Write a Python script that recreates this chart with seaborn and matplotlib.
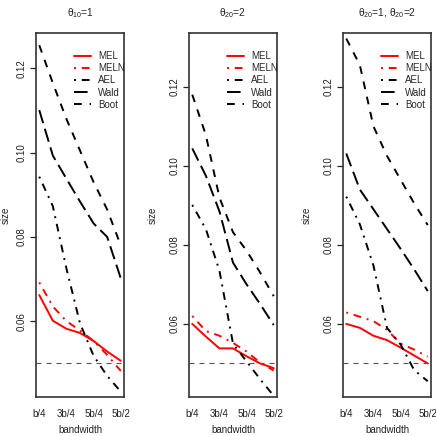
import matplotlib
matplotlib.use('Agg')
import matplotlib.pyplot as plt
from matplotlib.lines import Line2D
import seaborn as sns
import pandas as pd

bandwidth_labels = ['b/4', '3b/4', '5b/4', '5b/2']
bandwidth_ticks = [1, 2, 3, 4]
grid = [1.0, 1.5, 2.0, 2.5, 3.0, 3.5, 4.0]
methods = ['MEL', 'MELN', 'AEL', 'Wald', 'Boot']
titles = [r'$\theta_{10}$=1', r'$\theta_{20}$=2', r'$\theta_{20}$=1, $\theta_{20}$=2']
nominal = 0.05
ytick_values = [0.06, 0.08, 0.10, 0.12]

# panel 1
mel_1 = [0.0662, 0.0601, 0.0582, 0.0572, 0.0553, 0.0528, 0.0506]
meln_1 = [0.0692, 0.0635, 0.0600, 0.0578, 0.0553, 0.0520, 0.0482]
ael_1 = [0.0943, 0.0873, 0.0725, 0.0595, 0.0518, 0.0470, 0.0433]
wald_1 = [0.1101, 0.0993, 0.0938, 0.0884, 0.0832, 0.0800, 0.0702]
boot_1 = [0.1255, 0.1165, 0.1080, 0.1005, 0.0930, 0.0865, 0.0780]

# panel 2
mel_2 = [0.0600, 0.0568, 0.0538, 0.0538, 0.0518, 0.0500, 0.0488]
meln_2 = [0.0620, 0.0582, 0.0570, 0.0552, 0.0530, 0.0502, 0.0482]
ael_2 = [0.0901, 0.0840, 0.0735, 0.0550, 0.0505, 0.0460, 0.0418]
wald_2 = [0.1044, 0.0975, 0.0885, 0.0755, 0.0700, 0.0650, 0.0597]
boot_2 = [0.1180, 0.1078, 0.0920, 0.0832, 0.0785, 0.0730, 0.0670]

# panel 3
mel_3 = [0.0600, 0.0590, 0.0570, 0.0559, 0.0540, 0.0520, 0.0500]
meln_3 = [0.0629, 0.0618, 0.0607, 0.0585, 0.0550, 0.0535, 0.0517]
ael_3 = [0.0922, 0.0852, 0.0748, 0.0590, 0.0548, 0.0483, 0.0455]
wald_3 = [0.1031, 0.0940, 0.0890, 0.0840, 0.0790, 0.0738, 0.0683]
boot_3 = [0.1322, 0.1255, 0.1100, 0.1025, 0.0965, 0.0905, 0.0850]

panels = [
    [mel_1, meln_1, ael_1, wald_1, boot_1],
    [mel_2, meln_2, ael_2, wald_2, boot_2],
    [mel_3, meln_3, ael_3, wald_3, boot_3],
]
ylims = [(0.0420, 0.1284), (0.0415, 0.1336), (0.0415, 0.1336)]

colors = {'MEL': 'red', 'MELN': 'red', 'AEL': 'black', 'Wald': 'black', 'Boot': 'black'}
dashes = {'MEL': '', 'MELN': (1, 3, 4, 3), 'AEL': (1, 3, 4, 3),
          'Wald': (7, 3), 'Boot': (4, 4)}

sns.set_style('ticks')
plt.rcParams['font.family'] = ['Liberation Sans', 'DejaVu Sans']
plt.rcParams['mathtext.default'] = 'regular'

W = 436.0
fig = plt.figure(figsize=(4.36, 4.36), dpi=100)
lefts = [36, 189, 343]
ylabel_x = [-0.285, -0.36, -0.36]
fs = 7

for i, series in enumerate(panels):
    ax = fig.add_axes([lefts[i] / W, (W - 397) / W, 88 / W, 364 / W])

    df = pd.DataFrame({
        'bandwidth': grid * len(methods),
        'size': [v for s in series for v in s],
        'method': [m for m in methods for _ in grid],
    })
    sns.lineplot(data=df, x='bandwidth', y='size', hue='method', style='method',
                 hue_order=methods, style_order=methods, palette=colors,
                 dashes=dashes, estimator=None, linewidth=1.4, legend=False, ax=ax)
    ax.axhline(nominal, color='#555555', lw=0.8, dashes=(4.5, 4.5))

    ax.set_xlim(0.88, 4.12)
    ax.set_ylim(*ylims[i])
    ax.set_xticks(bandwidth_ticks)
    ax.set_xticklabels(bandwidth_labels)
    ax.set_yticks(ytick_values)
    ax.set_yticklabels(['%.2f' % v for v in ytick_values], rotation=90, va='center')
    ax.tick_params(axis='x', length=0, pad=8.5, labelsize=fs, colors='#222222')
    ax.tick_params(axis='y', length=4.3, width=0.9, pad=2.5, labelsize=fs,
                   colors='#222222', direction='out')
    for sp in ax.spines.values():
        sp.set_visible(True)
        sp.set_color('#333333')
        sp.set_linewidth(1.2)

    ax.set_xlabel('bandwidth', fontsize=fs, color='#222222')
    ax.set_ylabel('size', fontsize=fs, color='#222222')
    ax.xaxis.set_label_coords(0.5, -0.077)
    ax.yaxis.set_label_coords(ylabel_x[i], 0.5)
    ax.set_title(titles[i], fontsize=7.3, pad=12, color='#222222')

    handles = [Line2D([], [], color=colors[m], lw=1.4,
                      dashes=dashes[m] if dashes[m] else (None, None))
               for m in methods]
    ax.legend(handles, methods, loc='upper left', bbox_to_anchor=(0.432, 0.95),
              frameon=False, fontsize=fs, borderpad=0, borderaxespad=0,
              handlelength=1.7, handletextpad=0.75, labelspacing=0.22)

fig.savefig('out.png', dpi=100)
